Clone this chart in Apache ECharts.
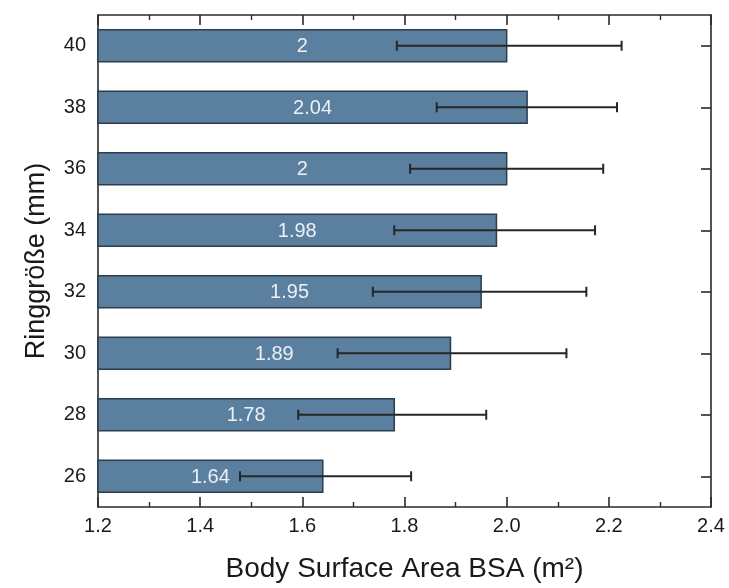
<!DOCTYPE html>
<html>
<head>
<meta charset="utf-8">
<script src="https://cdn.jsdelivr.net/npm/echarts@6/dist/echarts.min.js"></script>
<style>
  html, body { margin: 0; padding: 0; background: #ffffff; }
  #chart { width: 729px; height: 588px; }
</style>
</head>
<body>
<div id="chart"></div>
<script>
// Ring sizes (mm) and mean body surface area (m²) per ring size
const ringSizes = [40, 38, 36, 34, 32, 30, 28, 26];
const bsaMean   = [2, 2.04, 2, 1.98, 1.95, 1.89, 1.78, 1.64];
// Error bar extents (m²)
const bsaLower  = [1.785, 1.863, 1.811, 1.780, 1.738, 1.669, 1.592, 1.478];
const bsaUpper  = [2.225, 2.216, 2.189, 2.173, 2.156, 2.117, 1.960, 1.813];
// Axis tick values
const xTicks = [1.2, 1.4, 1.6, 1.8, 2.0, 2.2, 2.4];
const yTicks = [26, 28, 30, 32, 34, 36, 38, 40];

const FONT = '"Liberation Sans", Arial, Helvetica, sans-serif';
const X_MIN = xTicks[0], X_MAX = xTicks[xTicks.length - 1];
const BAR_THICK = 1.04;   // bar thickness in y-axis units (mm)
const AXIS_COLOR = '#2a2a2a';

const barData = bsaMean.map((v, i) => [v, ringSizes[i]]);
const errData = ringSizes.map((r, i) => [r, bsaLower[i], bsaUpper[i]]);

const baseX = {
  type: 'value', min: X_MIN, max: X_MAX, interval: 0.2,
  axisLine: { show: true, onZero: false, lineStyle: { color: AXIS_COLOR, width: 1.6 } },
  axisTick: { show: true, inside: true, length: 10, lineStyle: { color: AXIS_COLOR, width: 1.6 } },
  minorTick: { show: true, splitNumber: 2, length: 5, lineStyle: { color: AXIS_COLOR, width: 1.4 } },
  splitLine: { show: false },
  minorSplitLine: { show: false }
};
const baseY = {
  type: 'value', min: 25, max: 41,
  axisLine: { show: true, onZero: false, lineStyle: { color: AXIS_COLOR, width: 1.6 } },
  axisTick: { show: true, inside: true, length: 10, customValues: yTicks, lineStyle: { color: AXIS_COLOR, width: 1.6 } },
  splitLine: { show: false }
};

const chart = echarts.init(document.getElementById('chart'), null, { renderer: 'canvas' });
chart.setOption({
  animation: false,
  backgroundColor: '#ffffff',
  grid: { left: 98, right: 18, top: 15, bottom: 79, containLabel: false },
  xAxis: [
    Object.assign({}, baseX, {
      position: 'bottom',
      axisLabel: {
        show: true, margin: 9, fontSize: 20, color: '#1a1a1a', fontFamily: FONT,
        formatter: v => v.toFixed(1)
      },
      name: 'Body Surface Area BSA (m²)',
      nameLocation: 'middle', nameGap: 48,
      nameTextStyle: { fontSize: 28, color: '#1a1a1a', fontFamily: FONT }
    }),
    Object.assign({}, baseX, { position: 'top', axisLabel: { show: false } })
  ],
  yAxis: [
    Object.assign({}, baseY, {
      position: 'left',
      axisLabel: {
        show: true, margin: 12, fontSize: 20, color: '#1a1a1a', fontFamily: FONT,
        customValues: yTicks
      },
      name: 'Ringgröße (mm)',
      nameLocation: 'middle', nameGap: 48,
      nameTextStyle: { fontSize: 27, color: '#1a1a1a', fontFamily: FONT }
    }),
    Object.assign({}, baseY, { position: 'right', axisLabel: { show: false } })
  ],
  series: [
    {
      type: 'custom',
      name: 'BSA',
      xAxisIndex: 0, yAxisIndex: 0,
      data: barData,
      encode: { x: 0, y: 1 },
      renderItem: function (params, api) {
        const v = api.value(0), r = api.value(1);
        const p0 = api.coord([X_MIN, r]);
        const p1 = api.coord([v, r]);
        const h = api.size([0, BAR_THICK])[1];
        return {
          type: 'group',
          children: [
            {
              type: 'rect',
              shape: { x: p0[0], y: p0[1] - h / 2, width: p1[0] - p0[0], height: h },
              style: { fill: '#5a7f9f', stroke: '#2c3d4e', lineWidth: 1.5 }
            },
            {
              type: 'text',
              x: (p0[0] + p1[0]) / 2, y: p0[1] + 1,
              style: {
                text: String(v), fill: '#eaf0f5',
                font: '20px ' + FONT, align: 'center', verticalAlign: 'middle'
              }
            }
          ]
        };
      },
      z: 2
    },
    {
      type: 'custom',
      name: 'SD',
      xAxisIndex: 0, yAxisIndex: 0,
      data: errData,
      encode: { x: [1, 2], y: 0 },
      renderItem: function (params, api) {
        const r = api.value(0), lo = api.value(1), hi = api.value(2);
        const a = api.coord([lo, r]);
        const b = api.coord([hi, r]);
        const cap = 5;
        const st = { stroke: '#262626', lineWidth: 2 };
        return {
          type: 'group',
          children: [
            { type: 'line', shape: { x1: a[0], y1: a[1], x2: b[0], y2: b[1] }, style: st },
            { type: 'line', shape: { x1: a[0], y1: a[1] - cap, x2: a[0], y2: a[1] + cap }, style: st },
            { type: 'line', shape: { x1: b[0], y1: b[1] - cap, x2: b[0], y2: b[1] + cap }, style: st }
          ]
        };
      },
      z: 3
    }
  ]
});
</script>
</body>
</html>
